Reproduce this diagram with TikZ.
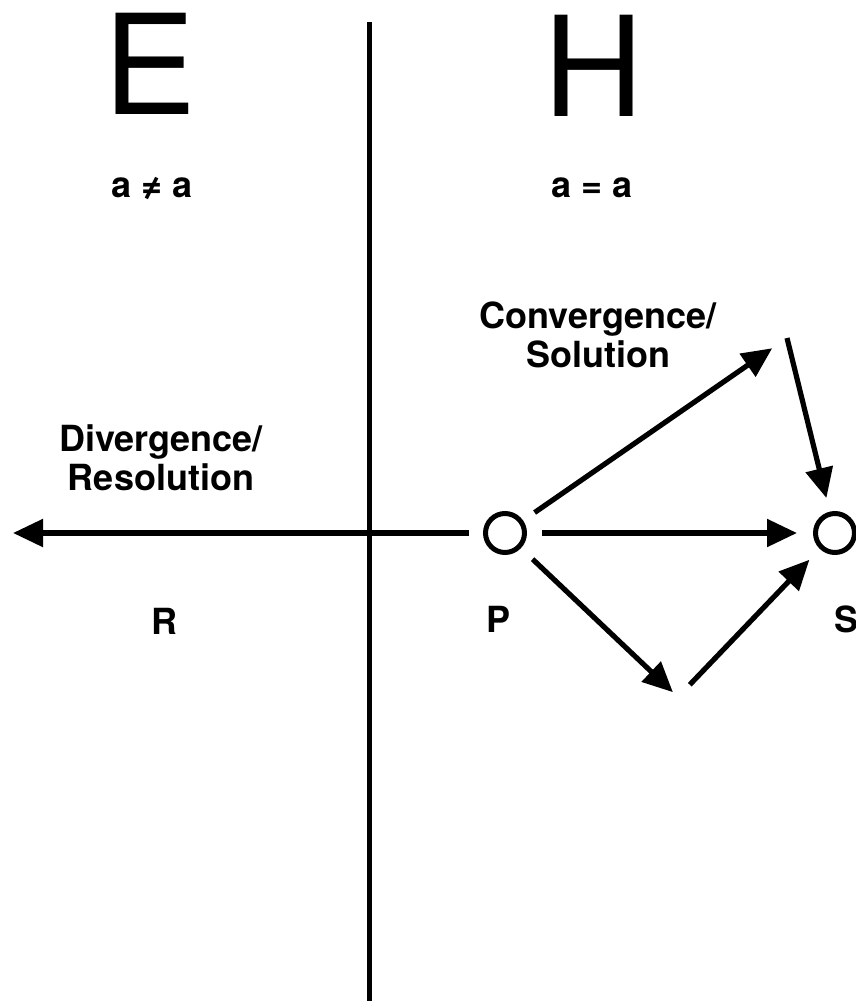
\documentclass[tikz,border=0pt]{standalone}
\usepackage{fontspec}
\setmainfont{TeX Gyre Heros}
\usetikzlibrary{arrows.meta}
\begin{document}
\begin{tikzpicture}[x=1pt,y=-1pt,
  conn/.style={line width=5.2pt, -{Triangle[length=30pt,width=27pt]}},
  dot/.style={circle, draw, line width=5pt, minimum size=39pt, inner sep=0pt},
  big/.style={font=\fontsize{139}{139}\selectfont, inner sep=0pt, anchor=base},
  lbl/.style={font=\bfseries\fontsize{36}{39}\selectfont, inner sep=0pt, align=center},
]
\useasboundingbox (0,0) rectangle (856,1001);
% nodes and coordinates
\node[dot] (P) at (505,533) {};
\node[dot] (S) at (835,533) {};
\coordinate (U) at (787,338);
\coordinate (L) at (678,697);
\coordinate (Rtip) at (13,533);
\coordinate (top) at (369,22);
\coordinate (bot) at (369,1001);
% divider
\draw[line width=5pt] (top) -- (bot);
% connectors
\draw[conn, shorten <=14pt] (P) -- (Rtip);
\draw[conn, shorten <=15pt, shorten >=16pt] (P) -- (S);
\draw[conn, shorten <=14pt, shorten >=18pt] (P) -- (U);
\draw[conn, shorten >=14pt] (U) -- (S);
\draw[conn, shorten <=16pt, shorten >=7pt] (P) -- (L);
\draw[conn, shorten <=17pt, shorten >=15pt] (L) -- (S);
% texts
\node[big] (E) at (150,114) {E};
\node[big] (H) at (594,116) {H};
\node[lbl, anchor=base] (neq) at (152,197) {a ≠ a};
\node[lbl, anchor=base] (eq) at (592,197) {a = a};
\node[lbl, anchor=north] (conv) at (598,302) {Convergence/\\Solution};
\node[lbl, anchor=north] (div) at (161,424) {Divergence/\\Resolution};
\node[lbl, anchor=base] (R) at (164,634) {R};
\node[lbl, anchor=base] (Plbl) at (498,632) {P};
\node[lbl, anchor=base west] (Slbl) at (834,632) {S};
\end{tikzpicture}
\end{document}
